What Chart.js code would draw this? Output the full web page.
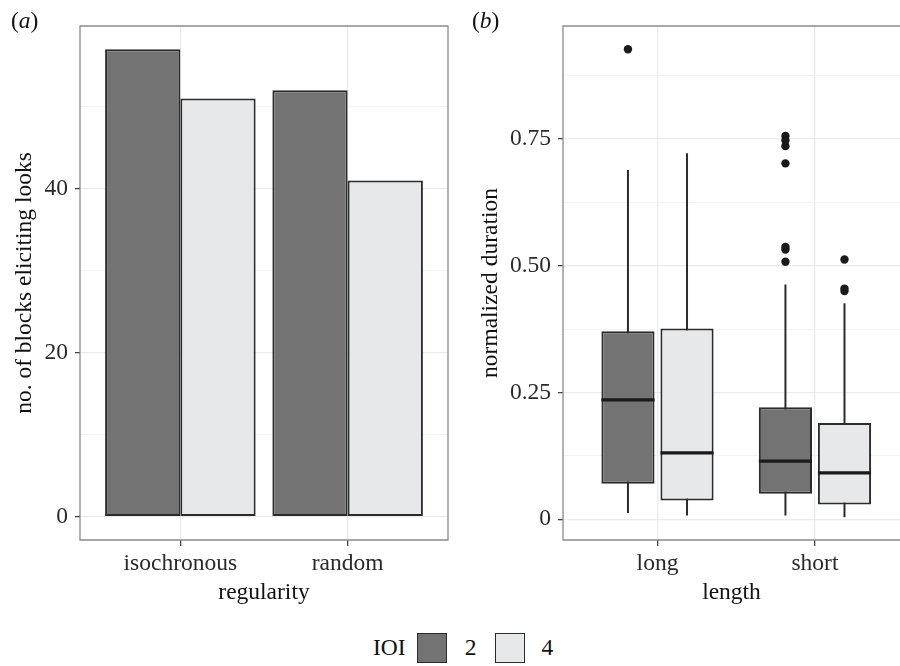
<!DOCTYPE html>
<html lang="en">
<head>
<meta charset="UTF-8">
<title>Looks and normalized duration by IOI</title>
<script src="https://cdn.jsdelivr.net/npm/chart.js"></script>
<style>
  body { margin: 0; background: #fff; font-family: "Liberation Serif", "DejaVu Serif", serif; }
  #wrap { position: relative; width: 900px; height: 666px; overflow: hidden; }
  canvas { position: absolute; top: 0; }
  .tag { position: absolute; top: 6px; font-size: 23.5px; color: #111; line-height: 28px; }
  #legend { position: absolute; left: 373px; top: 632px; height: 31px; display: flex; align-items: center; font-size: 23.5px; color: #111; }
  .sw { width: 28px; height: 28px; border: 1.8px solid #2b2b2b; }
</style>
</head>
<body>
<div id="wrap">
  <canvas id="chartA" width="450" height="620" style="left:0"></canvas>
  <canvas id="chartB" width="450" height="620" style="left:450px"></canvas>
  <div class="tag" style="left:11px">(<i>a</i>)</div>
  <div class="tag" style="left:472px">(<i>b</i>)</div>
  <div id="legend"></div>
</div>
<script>
// panel (a): number of blocks eliciting looks
var regularity = ['isochronous', 'random'];
var looksIOI2 = [57, 52];
var looksIOI4 = [51, 41];
var looksTicks = [0, 10, 20, 30, 40, 50];
var looksLabels = ['0', '', '20', '', '40', ''];

// panel (b): normalized duration, [lower whisker, q1, median, q3, upper whisker]
var lengthCats = ['long', 'short'];
var durIOI2 = [[0.0125, 0.070, 0.2355, 0.371, 0.689], [0.0073, 0.050, 0.1145, 0.221, 0.463]];
var durIOI4 = [[0.0073, 0.037, 0.131, 0.376, 0.722], [0.004, 0.029, 0.0914, 0.190, 0.426]];
var outIOI2 = [[0.927], [0.756, 0.747, 0.736, 0.702, 0.537, 0.532, 0.508]];
var outIOI4 = [[], [0.5125, 0.455, 0.450]];
var durTicks = [0, 0.125, 0.25, 0.375, 0.5, 0.625, 0.75, 0.875];
var durLabels = ['0', '', '0.25', '', '0.50', '', '0.75', ''];

var ioiLevels = ['2', '4'];
var fills = ['#737374', '#e7e8ea'];
var edge = '#2b2b2b';
var font = { family: '"Liberation Serif", serif', size: 23.5 };

// legend
var leg = document.getElementById('legend');
leg.innerHTML = '<span style="margin-right:11px">IOI</span>' +
  ioiLevels.map(function(l, i) {
    return '<div class="sw" style="background:' + fills[i] + '"></div>' +
      '<span style="margin:0 ' + (i ? 0 : 19) + 'px 0 ' + (i ? 16 : 18) + 'px">' + l + '</span>';
  }).join('');

// panel frame drawn on top, like ggplot's panel border
var frame = {
  id: 'frame',
  afterDatasetsDraw: function(chart, args, opts) {
    var a = chart.chartArea, ctx = chart.ctx;
    ctx.save();
    ctx.strokeStyle = '#8a8a8a';
    ctx.lineWidth = 1.3;
    ctx.beginPath();
    if (opts.closed) {
      ctx.rect(a.left, a.top, a.right - a.left, a.bottom - a.top);
    } else {
      ctx.moveTo(a.right + 2, a.top);
      ctx.lineTo(a.left, a.top);
      ctx.lineTo(a.left, a.bottom);
      ctx.lineTo(a.right + 2, a.bottom);
    }
    ctx.stroke();
    ctx.restore();
  }
};

// medians and outliers on top of the boxes
var boxExtras = {
  id: 'boxExtras',
  afterDatasetsDraw: function(chart) {
    var y = chart.scales.y, ctx = chart.ctx;
    [[0, durIOI2, outIOI2], [1, durIOI4, outIOI4]].forEach(function(s) {
      chart.getDatasetMeta(s[0]).data.forEach(function(bar, i) {
        var half = bar.width / 2;
        var my = y.getPixelForValue(s[1][i][2]);
        ctx.save();
        ctx.strokeStyle = '#1a1a1a';
        ctx.lineWidth = 3.2;
        ctx.beginPath();
        ctx.moveTo(bar.x - half, my);
        ctx.lineTo(bar.x + half, my);
        ctx.stroke();
        ctx.fillStyle = '#1a1a1a';
        s[2][i].forEach(function(v) {
          ctx.beginPath();
          ctx.arc(bar.x, y.getPixelForValue(v), 4.2, 0, 2 * Math.PI);
          ctx.fill();
        });
        ctx.restore();
      });
    });
  }
};

function catAxis(cats, title, max) {
  return {
    type: 'linear', min: 0.4, max: max, offset: false,
    afterBuildTicks: function(s) { s.ticks = cats.map(function(c, i) { return { value: i + 1 }; }); },
    afterFit: function(s) { s.height = 71; },
    ticks: { callback: function(v, i) { return cats[i]; }, font: font, color: '#2a2a2a', padding: 4, autoSkip: false, maxRotation: 0 },
    grid: { offset: false, color: '#ebebeb', lineWidth: 1.3, tickLength: 6, tickColor: '#444', tickWidth: 1.3 },
    border: { display: false },
    title: { display: true, text: title, font: font, color: '#111', padding: { top: 4, bottom: 4 } }
  };
}

function valAxis(min, max, vals, labels, title, width) {
  return {
    type: 'linear', min: min, max: max, stacked: false,
    afterBuildTicks: function(s) { s.ticks = vals.map(function(v) { return { value: v }; }); },
    afterFit: function(s) { s.width = width; },
    ticks: { callback: function(v, i) { return labels[i]; }, font: font, color: '#2a2a2a', padding: 7, autoSkip: false },
    grid: {
      color: function(c) { return labels[c.index] ? '#ebebeb' : '#f2f2f2'; },
      lineWidth: function(c) { return labels[c.index] ? 1.3 : 0.9; },
      tickLength: 5, tickWidth: 1.3,
      tickColor: function(c) { return labels[c.index] ? '#444' : 'rgba(0,0,0,0)'; }
    },
    border: { display: false },
    title: { display: true, text: title, font: font, color: '#111', padding: { top: 4, bottom: 4 } }
  };
}

new Chart(document.getElementById('chartA'), {
  type: 'bar',
  data: {
    datasets: [
      { label: ioiLevels[0], data: regularity.map(function(c, i) { return { x: i + 1, y: looksIOI2[i] }; }), backgroundColor: fills[0] },
      { label: ioiLevels[1], data: regularity.map(function(c, i) { return { x: i + 1, y: looksIOI4[i] }; }), backgroundColor: fills[1] }
    ]
  },
  options: {
    responsive: false, animation: false, events: [],
    layout: { padding: { top: 26, left: 7, right: 2, bottom: 9 } },
    datasets: { bar: { categoryPercentage: 0.9, barPercentage: 1, borderWidth: 2, borderColor: edge, borderSkipped: false } },
    plugins: { legend: { display: false }, tooltip: { enabled: false }, frame: { closed: true } },
    scales: {
      x: catAxis(regularity, 'regularity', 2.6),
      y: valAxis(-2.85, 59.85, looksTicks, looksLabels, 'no. of blocks eliciting looks', 73)
    }
  },
  plugins: [frame]
});

function boxData(stats, lo, hi) {
  return lengthCats.map(function(c, i) { return { x: i + 1, y: [stats[i][lo], stats[i][hi]] }; });
}

new Chart(document.getElementById('chartB'), {
  type: 'bar',
  data: {
    datasets: [
      { label: ioiLevels[0], stack: 's2', data: boxData(durIOI2, 1, 3), backgroundColor: fills[0], borderWidth: 2, borderColor: edge, barPercentage: 0.9 },
      { label: ioiLevels[1], stack: 's4', data: boxData(durIOI4, 1, 3), backgroundColor: fills[1], borderWidth: 2, borderColor: edge, barPercentage: 0.9 },
      { label: 'w2', stack: 's2', data: boxData(durIOI2, 0, 4), backgroundColor: edge, borderWidth: 0, maxBarThickness: 2 },
      { label: 'w4', stack: 's4', data: boxData(durIOI4, 0, 4), backgroundColor: edge, borderWidth: 0, maxBarThickness: 2 }
    ]
  },
  options: {
    responsive: false, animation: false, events: [],
    layout: { padding: { top: 26, left: 23, right: 0, bottom: 9 } },
    datasets: { bar: { categoryPercentage: 0.75, borderSkipped: false } },
    plugins: { legend: { display: false }, tooltip: { enabled: false }, frame: { closed: false } },
    scales: {
      x: catAxis(lengthCats, 'length', 2.54),
      y: valAxis(-0.041, 0.973, durTicks, durLabels, 'normalized duration', 90)
    }
  },
  plugins: [boxExtras, frame]
});
</script>
</body>
</html>
